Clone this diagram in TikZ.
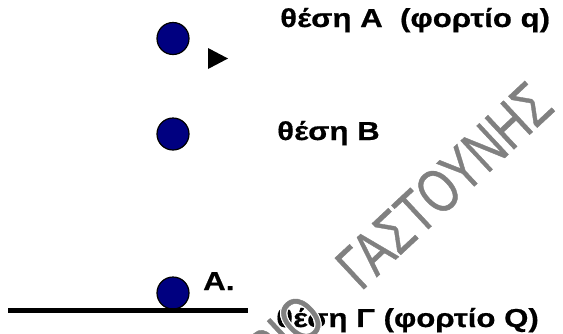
\documentclass[tikz,border=0pt]{standalone}
\usepackage{fontspec}
\setmainfont{Liberation Sans}
\newfontfamily\lblfont[FakeStretch=1.2,FakeBold=0.6]{Liberation Sans}
\newfontfamily\wmfont[FakeStretch=0.74,FakeBold=0.6]{Liberation Sans}
\definecolor{ballblue}{RGB}{0,0,128}
\definecolor{wmgray}{RGB}{128,128,128}
\newcommand{\wmtext}{\llap{ΦΡΟΝΤΙΣΤΗΡΙΟ\hspace{0.72em}}ΓΑΣΤΟΥΝΗΣ}
\tikzset{
  ball/.style={circle, draw=black, line width=1.2pt, fill=ballblue, minimum size=32pt, inner sep=0pt},
  lbl/.style={inner sep=0pt, anchor=base west, font=\lblfont\fontsize{26pt}{30pt}\selectfont\bfseries},
  ground/.style={line width=5pt},
  wm/.style={inner sep=0pt, anchor=base west, rotate=43, font=\wmfont\fontsize{62pt}{64pt}\selectfont}
}
\begin{document}
\begin{tikzpicture}[x=1pt,y=-1pt]
\useasboundingbox (0,0) rectangle (563,333);
\fill[white] (0,0) rectangle (563,333);
% balls
\node[ball] (c1) at (173,38.5) {};
\node[ball] (c2) at (173,134) {};
\node[ball] (c3) at (173,293) {};
% ground line
\coordinate (gl) at (8,310.5);
\coordinate (gr) at (248,310.5);
\draw[ground] (gl) -- (gr);
% small arrowhead
\coordinate (t1) at (208,48);
\coordinate (t2) at (208,69);
\coordinate (t3) at (228,58.5);
\fill[black] (t1) -- (t2) -- (t3) -- cycle;
% labels
\node[lbl] (la) at (280,27) {θέση Α\ \ (φορτίο q)};
\node[lbl] (lb) at (277,140) {θέση Β};
\node[lbl] (lc) at (203,290) {Α.};
\node[lbl] (ld) at (276,327) {θέση Γ (φορτίο Q)};
% watermark with white halo
\begin{scope}
\clip (0,0) rectangle (563,333);
\foreach \dx/\dy in {-1.2/0,1.2/0,0/-1.2,0/1.2,-0.85/-0.85,0.85/0.85,-0.85/0.85,0.85/-0.85}
  \node[wm, text=white] at ([xshift=\dx pt, yshift=\dy pt]361,292) {\wmtext};
\node[wm, text=wmgray] (wmk) at (361,292) {\wmtext};
\end{scope}
\end{tikzpicture}
\end{document}
